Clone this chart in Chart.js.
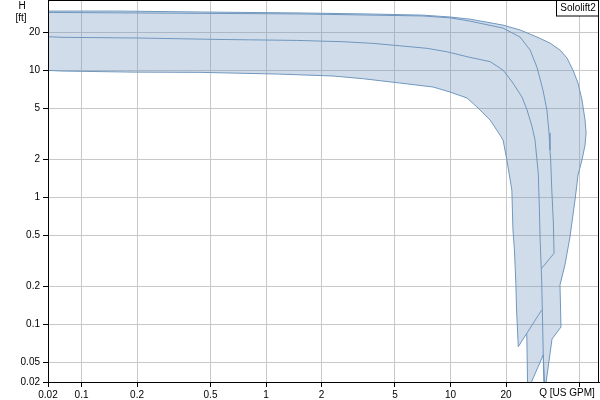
<!DOCTYPE html>
<html>
<head>
<meta charset="utf-8">
<script src="https://cdn.jsdelivr.net/npm/chart.js@4.4.1/dist/chart.umd.min.js"></script>
<style>
  html, body { margin: 0; padding: 0; background: #fff; }
</style>
</head>
<body>
<canvas id="chart" width="600" height="400"></canvas>
<script>
// outer (max) curve, incl. its drop to the bottom
const maxQ = [0.06, 0.158, 0.439, 1.53, 3.53, 7.1, 9.94, 12.76, 19.26, 23.8, 29.4, 34.6, 39.2, 42.8, 46.1, 49.1, 51.6, 53.6, 54.3, 53.6, 51.6, 49.1, 47.3, 44.4, 41.7, 39.2, 39.7, 35.5, 32.5];
const maxH = [29.3, 29.3, 28.8, 28.3, 27.8, 27.2, 26.3, 25.3, 22.7, 20.8, 18.3, 16.4, 14.45, 12.5, 10.05, 7.94, 5.84, 4.06, 3.21, 2.58, 1.97, 1.5, 0.952, 0.487, 0.293, 0.204, 0.0952, 0.0766, 0.03];

// jagged bottom between max end and min end
const bottomQ = [31.8, 26.2, 25.9];
const bottomH = [0.0573, 0.03, 0.0847];

// inner (min) curve
const minQ = [0.06, 0.0784, 0.193, 0.439, 1.15, 2.31, 3.36, 5.32, 8.04, 9.94, 12.3, 14.1, 16.4, 18.55, 19.26, 20.2, 21.5, 21.8, 22.2, 22.6, 22.8, 23.3];
const minH = [10.05, 9.87, 9.68, 9.64, 9.35, 9.02, 8.59, 7.94, 7.39, 6.75, 6.05, 5.05, 4.06, 3.09, 2.83, 1.97, 1.14, 0.553, 0.385, 0.211, 0.1296, 0.0666];

// middle curves
const midQ = [0.06, 0.0784, 0.2075, 0.563, 1.47, 2.61, 3.8, 5.32, 7.46, 9.57, 12.3, 16.4, 19.26, 21.8, 24.4, 26.0, 27.7, 28.7, 29.9, 30.3, 30.6, 31.2, 31.7, 32.1];
const midH = [18.5, 18.2, 17.96, 17.5, 17.2, 16.8, 16.3, 15.6, 14.9, 14.0, 12.8, 11.7, 10.05, 7.94, 6.16, 4.87, 3.58, 2.83, 1.55, 0.839, 0.461, 0.223, 0.0752, 0.03];

const upQ = [0.06, 1.53, 7.1, 9.94, 12.76, 19.26, 23.8, 27.0, 29.4, 31.7, 33.3, 34.2, 34.6, 34.9, 35.4, 36.1, 36.4, 31.2];
const upH = [28.6, 27.8, 26.8, 25.9, 24.4, 21.5, 18.3, 14.45, 10.6, 7.0, 4.87, 3.21, 2.36, 1.97, 1.14, 0.628, 0.362, 0.276];

const diagQ = [25.9, 31.2];
const diagH = [0.0847, 0.1296];

// axes
const xRange = [0.0658, 63.8];
const yRange = [0.0351, 35.8];
const xTickValues = [0.0658, 0.1, 0.2, 0.5, 1, 2, 5, 10, 20, 50];
const xTickLabels = ['0.02', '0.1', '0.2', '0.5', '1', '2', '5', '10', '20', ''];
const yTickValues = [0.0351, 0.05, 0.1, 0.2, 0.5, 1, 2, 5, 10, 20];
const yTickLabels = ['0.02', '0.05', '0.1', '0.2', '0.5', '1', '2', '5', '10', '20'];

const LINE = 'rgb(112,151,190)';
const FILL = 'rgba(112,150,190,0.33)';
const FONT = '"Liberation Sans", Arial, sans-serif';

const pts = (qs, hs) => qs.map((q, i) => ({ x: q, y: hs[i] }));

const outline = pts(maxQ, maxH)
  .concat(pts(bottomQ, bottomH))
  .concat(pts(minQ, minH).reverse());

const lineStyle = { borderColor: LINE, borderWidth: 1, pointRadius: 0, tension: 0, fill: false };

const overlay = {
  id: 'overlay',
  afterDraw(chart) {
    const { ctx, chartArea: a } = chart;
    ctx.save();
    ctx.strokeStyle = '#000';
    ctx.lineWidth = 1;
    ctx.strokeRect(a.left + 0.5, a.top + 0.5, a.right - a.left - 1, a.bottom - a.top);

    ctx.fillStyle = '#000';
    ctx.font = '10px ' + FONT;
    ctx.textAlign = 'center';
    ctx.textBaseline = 'middle';
    ctx.fillText('H', 22, 6);
    ctx.fillText('[ft]', 21, 18);
    ctx.fillText('Q [US GPM]', 567, 393.5);

    // series label box
    ctx.fillStyle = '#fff';
    ctx.fillRect(556.5, 0.5, 42, 15.5);
    ctx.strokeRect(556.5, 0.5, 42, 15.5);
    ctx.fillStyle = '#000';
    ctx.fillText('Sololift2', 578, 8.5);
    ctx.restore();
  }
};

new Chart(document.getElementById('chart'), {
  type: 'line',
  data: {
    datasets: [
      { data: outline, borderColor: LINE, borderWidth: 1, backgroundColor: FILL, fill: 'shape', pointRadius: 0, tension: 0 },
      Object.assign({ data: pts(midQ, midH) }, lineStyle),
      Object.assign({ data: pts(upQ, upH) }, lineStyle),
      Object.assign({ data: pts(diagQ, diagH) }, lineStyle)
    ]
  },
  options: {
    responsive: false,
    animation: false,
    layout: { padding: { top: 0, right: 1, bottom: 0, left: 0 } },
    plugins: { legend: { display: false }, tooltip: { enabled: false } },
    scales: {
      x: {
        type: 'logarithmic',
        min: xRange[0],
        max: xRange[1],
        afterBuildTicks: s => { s.ticks = xTickValues.map(v => ({ value: v })); },
        afterFit: s => { s.height = 18; s.paddingLeft = 0; s.paddingRight = 0; },
        grid: { color: '#c8c8c8', tickColor: '#000', tickLength: 5 },
        border: { color: '#000' },
        ticks: {
          autoSkip: false, maxRotation: 0, padding: 2, color: '#000',
          font: { family: FONT, size: 10 },
          callback: (v, i) => xTickLabels[i]
        }
      },
      y: {
        type: 'logarithmic',
        min: yRange[0],
        max: yRange[1],
        afterBuildTicks: s => { s.ticks = yTickValues.map(v => ({ value: v })); },
        afterFit: s => { s.width = 48; s.paddingTop = 0; s.paddingBottom = 0; },
        grid: { color: '#c8c8c8', tickColor: '#000', tickLength: 5 },
        border: { color: '#000' },
        ticks: {
          autoSkip: false, padding: 3, color: '#000',
          font: { family: FONT, size: 10 },
          callback: (v, i) => yTickLabels[i]
        }
      }
    }
  },
  plugins: [overlay]
});
</script>
</body>
</html>
